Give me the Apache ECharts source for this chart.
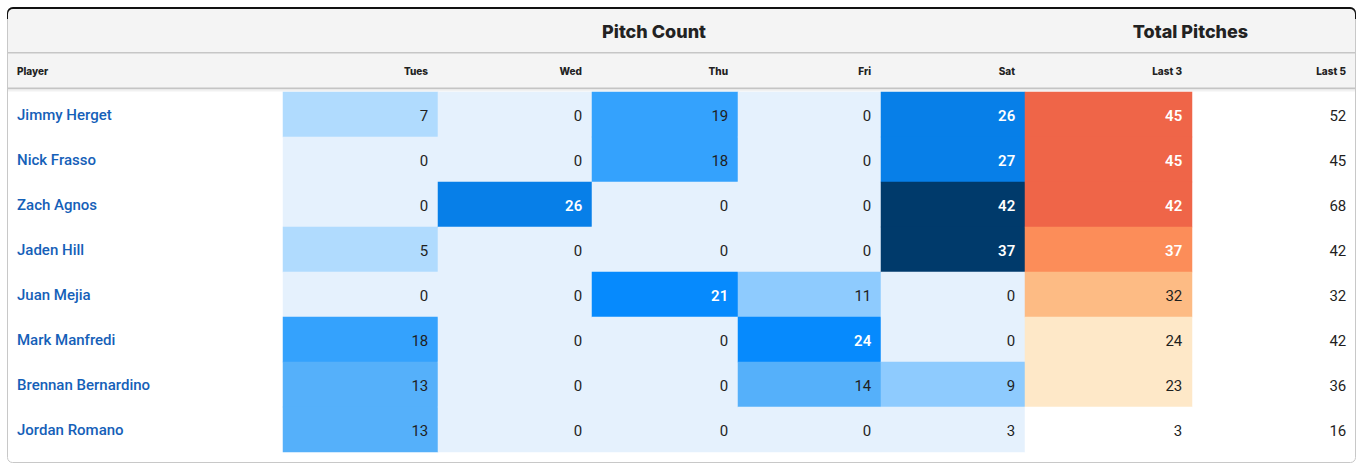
<!DOCTYPE html>
<html>
<head>
<meta charset="utf-8">
<script src="https://cdn.jsdelivr.net/npm/echarts@6/dist/echarts.min.js"></script>
<style>
  html, body { margin: 0; padding: 0; background: #fff; }
  #main { width: 1361px; height: 464px; }
</style>
</head>
<body>
<div id="main"></div>
<script>
// 数据
var players = ['Jimmy Herget', 'Nick Frasso', 'Zach Agnos', 'Jaden Hill', 'Juan Mejia', 'Mark Manfredi', 'Brennan Bernardino', 'Jordan Romano'];
var columns = ['Tues', 'Wed', 'Thu', 'Fri', 'Sat', 'Last 3', 'Last 5'];
var tues = [7, 0, 0, 5, 0, 18, 13, 13];
var wed = [0, 0, 26, 0, 0, 0, 0, 0];
var thu = [19, 18, 0, 0, 21, 0, 0, 0];
var fri = [0, 0, 0, 0, 11, 24, 14, 0];
var sat = [26, 27, 42, 37, 0, 0, 9, 3];
var last3 = [45, 45, 42, 37, 32, 24, 23, 3];
var last5 = [52, 45, 68, 42, 32, 42, 36, 16];
var colValues = [tues, wed, thu, fri, sat, last3, last5];

// 布局
var edges = [283, 438, 592, 738, 881, 1025, 1192, 1356];
var rowTop = 92, rowH = 45;
var nameColor = '#1560b8';
var textColor = '#1f1f1f';

var bluePieces = [
  {max: 3.5, color: '#e5f1fd'},
  {min: 3.5, max: 8, color: '#b0dbfe'},
  {min: 8, max: 12, color: '#8ecbfe'},
  {min: 12, max: 16, color: '#55b0fa'},
  {min: 16, max: 20, color: '#34a2fd'},
  {min: 20, max: 25, color: '#068afd'},
  {min: 25, max: 30, color: '#077fe8'},
  {min: 30, color: '#003a6b'}
];
var orangePieces = [
  {max: 10, color: '#ffffff'},
  {min: 10, max: 28, color: '#fee8c8'},
  {min: 28, max: 35, color: '#fdbb84'},
  {min: 35, max: 40, color: '#fc8d59'},
  {min: 40, color: '#ef6548'}
];

function $each(arr, fn) { for (var k = 0; k < arr.length; k++) fn(k, arr[k]); }

var grids = [], xAxes = [], yAxes = [], series = [];
for (var i = 0; i < columns.length; i++) {
  grids.push({
    left: edges[i], top: rowTop,
    width: edges[i + 1] - edges[i], height: rowH * players.length
  });
  xAxes.push({type: 'category', gridIndex: i, data: [columns[i]], show: false});
  yAxes.push({
    type: 'category', gridIndex: i, data: players, inverse: true,
    show: i == 0,
    axisLine: {show: false}, axisTick: {show: false}, splitLine: {show: false},
    axisLabel: {
      align: 'left', margin: edges[0] - 17, padding: [3, 0, 0, 0],
      color: nameColor, fontFamily: 'Roboto', fontSize: 15, fontWeight: 500
    }
  });
  var whiteFrom = i < 5 ? 20 : (i == 5 ? 35 : 999);
  var data = [];
  $each(colValues[i], function (j, v) {
    var light = v >= whiteFrom;
    data.push({
      value: [0, j, v],
      label: {color: light ? '#ffffff' : textColor, fontWeight: light ? 600 : 400}
    });
  });
  var s = {
    type: 'heatmap', xAxisIndex: i, yAxisIndex: i,
    data: data,
    label: {
      show: true, position: 'insideRight', distance: 10, offset: [0, 1],
      fontFamily: 'Roboto', fontSize: 15,
      formatter: function (p) { return p.value[2]; }
    },
    emphasis: {disabled: true}
  };
  if (i == 6) s.itemStyle = {color: 'rgba(255,255,255,0)'};
  series.push(s);
}

// 表头
var headFont = 'Inter';
var headerTexts = [];
headerTexts.push({
  type: 'text', x: 17, y: 71,
  style: {text: 'Player', fill: '#222', font: '800 10px ' + headFont, verticalAlign: 'middle'}
});
$each(columns, function (k, name) {
  headerTexts.push({
    type: 'text', x: edges[k + 1] - 10, y: 71,
    style: {text: name, fill: '#222', font: '800 10px ' + headFont, align: 'right', verticalAlign: 'middle'}
  });
});
headerTexts.push({
  type: 'text', x: (edges[0] + edges[5]) / 2, y: 31,
  style: {text: 'Pitch Count', fill: '#222', font: '800 18px ' + headFont, align: 'center', verticalAlign: 'middle'}
});
headerTexts.push({
  type: 'text', x: (edges[5] + edges[7]) / 2, y: 31,
  style: {text: 'Total Pitches', fill: '#222', font: '800 18px ' + headFont, align: 'center', verticalAlign: 'middle'}
});

var card = [
  {type: 'rect', z: -10, shape: {x: 7.5, y: 7.5, width: 1348, height: 455, r: 5},
    style: {fill: '#fff', stroke: '#c8c8c8', lineWidth: 1}},
  {type: 'rect', z: -9, shape: {x: 7, y: 7, width: 1349, height: 12, r: [6, 6, 0, 0]},
    style: {fill: '#111'}},
  {type: 'rect', z: -8, shape: {x: 8, y: 9, width: 1347, height: 80, r: [5, 5, 0, 0]},
    style: {fill: '#f4f4f4'}},
  {type: 'rect', z: -7, shape: {x: 8, y: 52, width: 1347, height: 1.5},
    style: {fill: '#c6c6c6'}},
  {type: 'rect', z: -7, shape: {x: 8, y: 87.5, width: 1347, height: 2},
    style: {fill: '#c4c4c4'}},
  {type: 'rect', z: -7, shape: {x: 8, y: 89.5, width: 1347, height: 2},
    style: {fill: '#f1f1f1'}}
];

var chart = echarts.init(document.getElementById('main'), null, {renderer: 'svg'});
chart.setOption({
  animation: false,
  grid: grids,
  xAxis: xAxes,
  yAxis: yAxes,
  visualMap: [
    {type: 'piecewise', show: false, dimension: 2, seriesIndex: [0, 1, 2, 3, 4], pieces: bluePieces},
    {type: 'piecewise', show: false, dimension: 2, seriesIndex: 5, pieces: orangePieces},
    {type: 'piecewise', show: false, dimension: 2, seriesIndex: 6, pieces: [{min: -1, color: 'rgba(255,255,255,0)'}]}
  ],
  graphic: card.concat(headerTexts),
  series: series
});
</script>
</body>
</html>
